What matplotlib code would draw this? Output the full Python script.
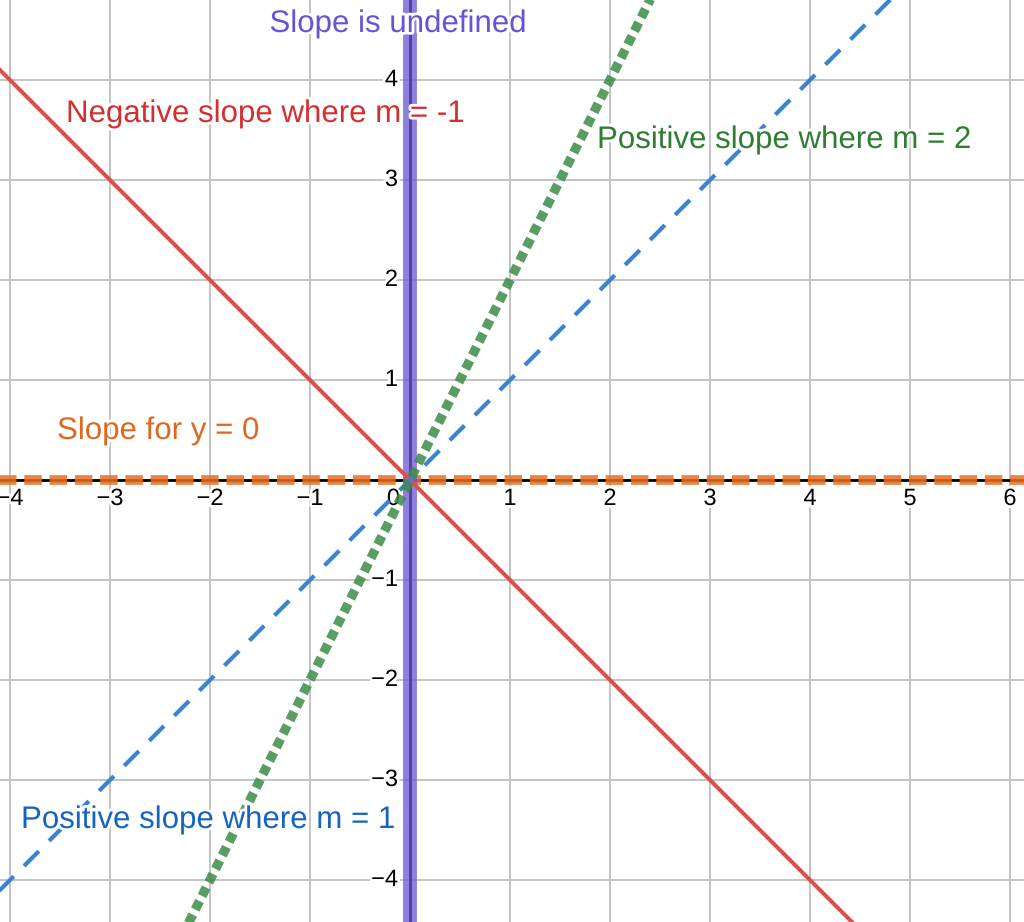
import numpy as np
import matplotlib.pyplot as plt
import matplotlib.patheffects as pe

plt.rcParams['font.family'] = ['Liberation Sans', 'DejaVu Sans']

# lines y = m*x through the origin
slopes = [-1, 1, 2]
x_range = [-5, 7]
xticks = [-4, -3, -2, -1, 1, 2, 3, 4, 5, 6]
yticks = [-4, -3, -2, -1, 1, 2, 3, 4]

labels = ["Slope is undefined", "Negative slope where m = -1",
          "Positive slope where m = 2", "Slope for y = 0",
          "Positive slope where m = 1"]
label_x = [-0.12, -3.44, 1.87, -3.53, -3.89]
label_y = [4.56, 3.66, 3.40, 0.49, -3.40]
label_colors = ['#6455d6', '#d42f2f', '#2e7d32', '#e0671f', '#1565c0']

fig = plt.figure(figsize=(10.24, 9.22), dpi=100)
ax = fig.add_axes([0, 0, 1, 1])
ax.set_xlim(-4.1, 6.14)
ax.set_ylim(-4.42, 4.8)
for s in ax.spines.values():
    s.set_visible(False)
ax.set_xticks([])
ax.set_yticks([])

# grid
for v in range(-5, 8):
    ax.axvline(v, color='#c4c4c4', lw=1.4, zorder=0)
    ax.axhline(v, color='#c4c4c4', lw=1.4, zorder=0)
# axes
ax.axhline(0, color='black', lw=2, zorder=1)
ax.axvline(0, color='black', lw=2, zorder=1)

xs = np.array(x_range)
halo = [pe.withStroke(linewidth=4, foreground='white')]

def fmt(t):
    return '\u2212' + str(-t) if t < 0 else str(t)

# tick labels
for t in xticks:
    ax.text(t, -0.08, fmt(t), ha='center', va='top',
            fontsize=17, zorder=3, path_effects=halo)
ax.text(-0.1, -0.08, '0', ha='right', va='top', fontsize=17, zorder=3, path_effects=halo)
for t in yticks:
    ax.text(-0.12, t, fmt(t), ha='right', va='center',
            fontsize=17, zorder=3, path_effects=halo)

# y = 0
l, = ax.plot(xs, [0, 0], color='#e86f22', lw=7, alpha=0.85, zorder=4)
l.set_dashes((1.8, 0.8))
l.set_dash_capstyle('butt')

# undefined slope, x = 0
ax.axvline(0, color='#6a55d6', lw=10, alpha=0.75, zorder=4)

# m = -1
ax.plot(xs, slopes[0] * xs, color='#d9514c', lw=2.9, zorder=5)

# m = 1
l, = ax.plot(xs, slopes[1] * xs, color='#3a82d6', lw=3, zorder=5)
l.set_dashes((5, 3.5))
l.set_dash_capstyle('butt')

# m = 2
l, = ax.plot(xs, slopes[2] * xs, color='#3d8c48', lw=6.8, alpha=0.85, zorder=5)
l.set_dashes((1, 0.6))
l.set_dash_capstyle('butt')

for txt, lx, ly, c in zip(labels, label_x, label_y, label_colors):
    ha = 'center' if txt == labels[0] else 'left'
    ax.text(lx, ly, txt, color=c, fontsize=22.5, ha=ha, va='center', zorder=6,
            path_effects=[pe.withStroke(linewidth=4, foreground='white')])

fig.savefig('out.png', dpi=100)
